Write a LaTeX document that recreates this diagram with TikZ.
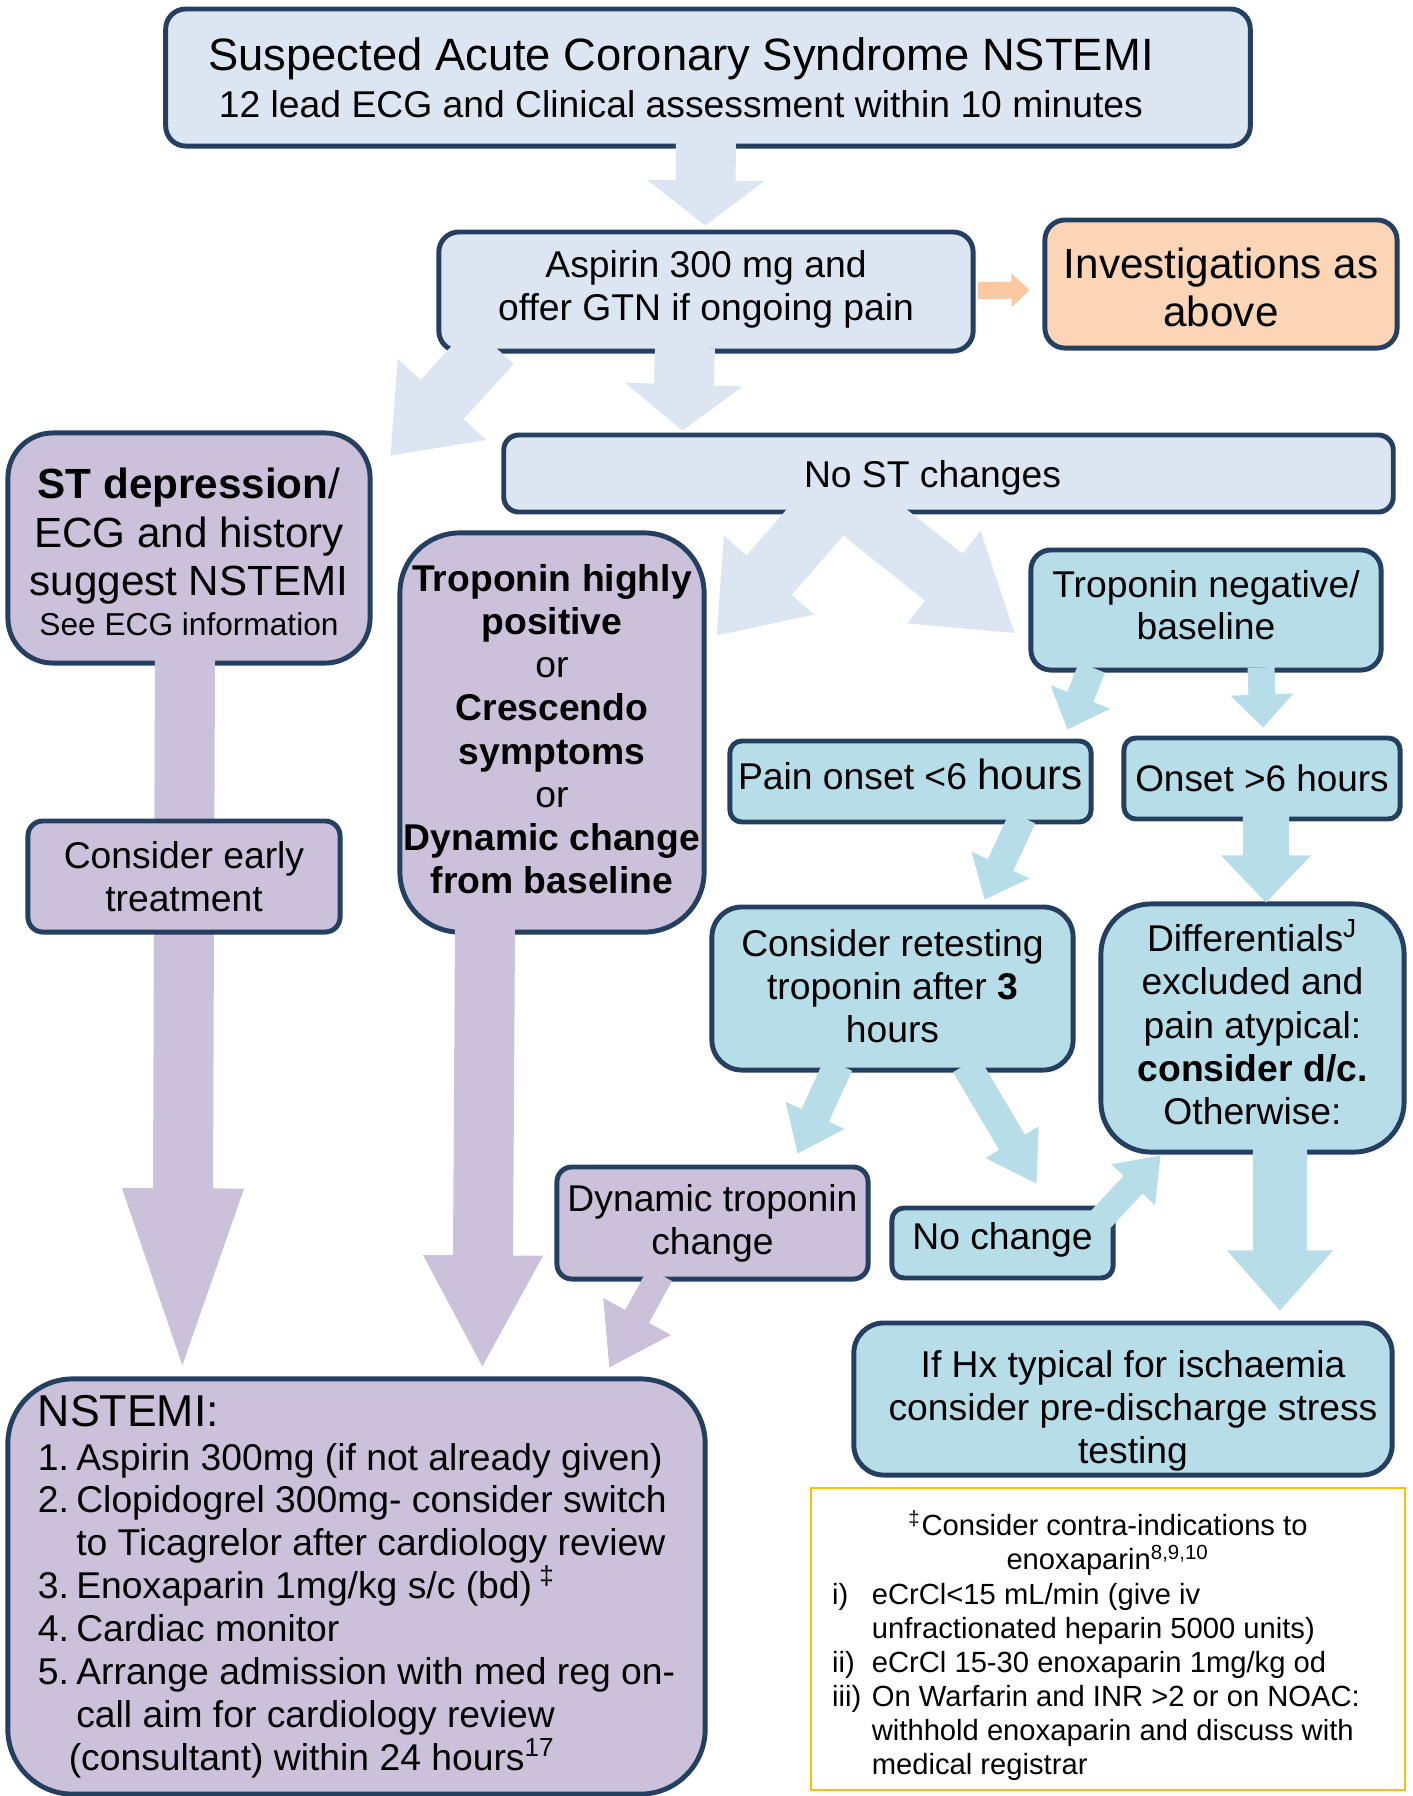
\documentclass[tikz,border=0pt]{standalone}
\usepackage{fontspec}
\setmainfont{Liberation Sans}
\usetikzlibrary{calc}

\definecolor{paleblue}{HTML}{DCE6F2}
\definecolor{lilac}{HTML}{CCC1DA}
\definecolor{aqua}{HTML}{B7DEE8}
\definecolor{peach}{HTML}{FBD5B5}
\definecolor{peacharrow}{HTML}{F9C8A0}
\definecolor{navy}{HTML}{243F60}
\definecolor{amber}{HTML}{FFC000}

% block arrow: colour, start, tip, half shaft width, half head width, head length
\newcommand{\blockarrow}[6]{%
  \coordinate (ba-s) at #2;
  \coordinate (ba-t) at #3;
  \coordinate (ba-b) at ($(ba-t)!#6!(ba-s)$);
  \fill[#1] ($(ba-s)!#4!90:(ba-t)$) -- ($(ba-b)!#4!-90:(ba-s)$)
    -- ($(ba-b)!#5!-90:(ba-s)$) -- (ba-t) -- ($(ba-b)!#5!90:(ba-s)$)
    -- ($(ba-b)!#4!90:(ba-s)$) -- ($(ba-s)!#4!-90:(ba-t)$) -- cycle;
}
% list number in the NSTEMI box
\newcommand{\nsnum}[1]{\makebox[0.385cm][l]{#1}}

\tikzset{
  box/.style={draw=navy, line width=1.4pt, align=center, inner sep=0pt,
    font=\fontsize{10.6}{12.3}\selectfont},
  greybox/.style={box, fill=paleblue},
  lilacbox/.style={box, fill=lilac},
  aquabox/.style={box, fill=aqua},
  peachbox/.style={box, fill=peach},
}

\begin{document}
\begin{tikzpicture}[x=0.01cm, y=-0.01cm]
    \useasboundingbox (0,0) rectangle (1413,1796);

    % top row
    \node[greybox, minimum width=10.84cm, minimum height=1.37cm, rounded corners=0.2cm] (title) at (708,77.5)
        {{\fontsize{12.9}{14}\selectfont Suspected Acute Coronary Syndrome NSTEMI}\hspace*{0.54cm}\\[1.2pt]
         12 lead ECG and Clinical assessment within 10 minutes\hspace*{0.54cm}};
    \node[greybox, minimum width=5.34cm, minimum height=1.19cm, rounded corners=0.2cm] (aspirin) at (706,291.5)
        {Aspirin 300 mg and\\ offer GTN if ongoing pain\rule[-3.5pt]{0pt}{0pt}};
    \node[peachbox, minimum width=3.52cm, minimum height=1.28cm, rounded corners=0.2cm,
          font=\fontsize{12}{13.7}\selectfont] (invest) at (1221,284) {\rule{0pt}{10.8pt}Investigations as\\ above};

    % ST changes
    \node[lilacbox, minimum width=3.62cm, minimum height=2.30cm, rounded corners=0.45cm,
          font=\fontsize{12}{13.85}\selectfont] (st) at (189,548)
        {\rule{0pt}{11pt}\textbf{ST depression}/\\ ECG and history\\ suggest NSTEMI\\[-2.5pt]
         {\fontsize{9}{11}\selectfont See ECG information}};
    \node[greybox, minimum width=8.89cm, minimum height=0.77cm, rounded corners=0.15cm] (nost) at (948.5,473.5)
        {\rule{0pt}{10.3pt}No ST changes\hspace*{0.32cm}};

    % troponin
    \node[lilacbox, minimum width=3.04cm, minimum height=3.99cm, rounded corners=0.6cm] (tropos) at (552,732.5)
        {\textbf{Troponin highly}\\ \textbf{positive}\\ or\\ \textbf{Crescendo}\\ \textbf{symptoms}\\ or\\
         \textbf{Dynamic change}\\ \textbf{from baseline}\rule[-2pt]{0pt}{0pt}};
    \node[aquabox, minimum width=3.50cm, minimum height=1.20cm, rounded corners=0.2cm] (troneg) at (1206,610)
        {Troponin negative/\\[-0.5pt] baseline\rule[-2.8pt]{0pt}{0pt}};
    \node[aquabox, minimum width=3.61cm, minimum height=0.81cm, rounded corners=0.12cm] (pain) at (910.5,781.5)
        {Pain onset <6 {\fontsize{12}{14}\selectfont hours}\rule[-4pt]{0pt}{0pt}};
    \node[aquabox, minimum width=2.76cm, minimum height=0.81cm, rounded corners=0.12cm,
          font=\fontsize{10.5}{12}\selectfont] (onset) at (1262,778.5) {Onset >6 hours};
    \node[aquabox, minimum width=3.61cm, minimum height=1.63cm, rounded corners=0.3cm] (retest) at (892.5,988.5)
        {Consider retesting\\ troponin after \textbf{3}\\ hours\rule[-1.5pt]{0pt}{0pt}};
    \node[aquabox, minimum width=3.03cm, minimum height=2.48cm, rounded corners=0.5cm] (diff) at (1252.5,1028)
        {Differentials\textsuperscript{J}\\ excluded and\\ pain atypical:\\ \textbf{consider d/c.}\\
         Otherwise:\rule[-3.4pt]{0pt}{0pt}};
    \node[lilacbox, minimum width=3.11cm, minimum height=1.12cm, rounded corners=0.15cm] (dyn) at (712.5,1223)
        {Dynamic troponin\\ change};
    \node[aquabox, minimum width=2.21cm, minimum height=0.70cm, rounded corners=0.12cm] (nochange) at (1002.5,1243)
        {No change\rule[-4.2pt]{0pt}{0pt}};
    \node[aquabox, minimum width=5.38cm, minimum height=1.52cm, rounded corners=0.3cm] (ifhx) at (1123,1399)
        {\rule{0pt}{14.3pt}\hspace*{0.2cm}If Hx typical for ischaemia\\
         \hspace*{0.2cm}consider pre-discharge stress\\ \hspace*{0.2cm}testing};

    % outcome and footnote
    \node[lilacbox, align=left, minimum width=6.97cm, minimum height=4.15cm, rounded corners=0.65cm,
          font=\fontsize{10.6}{12.2}\selectfont] (nstemi) at (356.5,1586.5)
        {\makebox[6.37cm][l]{\fontsize{12.7}{14}\selectfont NSTEMI:}\\[0.3pt]
         \nsnum{1.}Aspirin 300mg (if not already given)\\
         \nsnum{2.}Clopidogrel 300mg- consider switch\\
         \hspace*{0.385cm}to Ticagrelor after cardiology review\\
         \nsnum{3.}Enoxaparin 1mg/kg s/c (bd)\textsuperscript{ ‡}\\
         \nsnum{4.}Cardiac monitor\\
         \nsnum{5.}Arrange admission with med reg on-\\
         \hspace*{0.385cm}call aim for cardiology review\\
         \hspace*{0.31cm}(consultant) within 24 hours\textsuperscript{17}};
    \node[draw=amber, line width=0.6pt, fill=white, align=center, inner sep=0pt,
          minimum width=5.94cm, minimum height=3.02cm, font=\fontsize{8.3}{9.7}\selectfont] (foot) at (1108,1639)
        {\rule{0pt}{12pt}\textsuperscript{‡}Consider contra-indications to\\ enoxaparin\textsuperscript{8,9,10}\\[0.3pt]
         \hspace*{-0.24cm}\begin{tabular}{@{}l@{\hspace{3pt}}l@{}}
         i) & eCrCl<15 mL/min (give iv\\
            & unfractionated heparin 5000 units)\\
         ii) & eCrCl 15-30 enoxaparin 1mg/kg od\\
         iii) & On Warfarin and INR >2 or on NOAC:\\
              & withhold enoxaparin and discuss with\\
              & medical registrar
         \end{tabular}};

    % block arrows
    \blockarrow{paleblue}{($(title.south)+(-2,-6)$)}{($(aspirin.north)+(-1,-4)$)}{0.30cm}{0.585cm}{0.45cm}
    \blockarrow{paleblue}{($(aspirin.south)+(-21,-6)$)}{($(nost.north west)+(181,-2)$)}{0.30cm}{0.59cm}{0.46cm}
    \blockarrow{paleblue}{($(aspirin.south west)+(56,-9)$)}{($(st.north east)+(18,25)$)}{0.29cm}{0.60cm}{0.76cm}
    \blockarrow{peacharrow}{($(aspirin.east)+(2,-1)$)}{($(invest.west)+(-13,6)$)}{0.085cm}{0.17cm}{0.18cm}
    % keep the two split arrows off the text above
    \begin{scope}
        \clip (0,498) rectangle (1413,700);
        \blockarrow{paleblue}{($(nost.south west)+(353,-37)$)}{($(tropos.north east)+(10,105)$)}{0.30cm}{0.60cm}{0.80cm}
        \blockarrow{paleblue}{($(nost.south west)+(323,-32)$)}{($(troneg.west)+(-14,23)$)}{0.30cm}{0.59cm}{0.90cm}
    \end{scope}
    \blockarrow{aqua}{($(troneg.south)+(-114,-5)$)}{($(pain.north east)+(-26,-9)$)}{0.14cm}{0.32cm}{0.35cm}
    \blockarrow{aqua}{($(troneg.south)+(55,-5)$)}{($(onset.north)+(1,-8)$)}{0.135cm}{0.315cm}{0.33cm}
    \blockarrow{aqua}{($(pain.south east)+(-71,-7)$)}{($(retest.north east)+(-91,-5)$)}{0.14cm}{0.32cm}{0.38cm}
    \blockarrow{aqua}{($(onset.south)+(4,-7)$)}{($(diff.north)+(13.5,1)$)}{0.23cm}{0.45cm}{0.47cm}
    \blockarrow{aqua}{($(retest.south)+(-54,-8)$)}{($(dyn.north east)+(-73,-11)$)}{0.15cm}{0.325cm}{0.42cm}
    \blockarrow{aqua}{($(retest.south)+(73.5,-8)$)}{($(nochange.north east)+(-79,-22)$)}{0.15cm}{0.31cm}{0.48cm}
    \blockarrow{aqua}{($(nochange.north east)+(-15,14)$)}{($(diff.south west)+(62,1)$)}{0.13cm}{0.30cm}{0.40cm}
    \blockarrow{aqua}{($(diff.south)+(27.5,-6)$)}{($(ifhx.north)+(157,-10)$)}{0.27cm}{0.53cm}{0.60cm}
    \blockarrow{lilac}{($(st.south)+(-4,-8)$)}{($(nstemi.north west)+(177,-11)$)}{0.30cm}{0.61cm}{1.77cm}
    \blockarrow{lilac}{($(tropos.south)+(-67,-7)$)}{($(nstemi.north west)+(477,-10)$)}{0.30cm}{0.60cm}{1.11cm}
    \blockarrow{lilac}{($(dyn.south)+(-52.5,-7)$)}{($(nstemi.north west)+(604,-9)$)}{0.135cm}{0.385cm}{0.58cm}

    % sits on top of the long arrow
    \node[lilacbox, minimum width=3.12cm, minimum height=1.11cm, rounded corners=0.15cm] (early) at (184,876.5)
        {Consider early\\ treatment};
\end{tikzpicture}
\end{document}
